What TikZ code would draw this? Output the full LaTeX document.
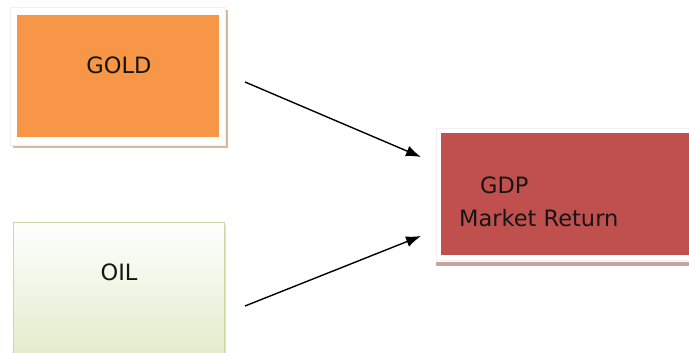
\documentclass[tikz,border=0pt]{standalone}
\usepackage{fontspec}
\setmainfont{DejaVu Sans}
\usetikzlibrary{arrows.meta}
\definecolor{goldfill}{HTML}{F79646}
\definecolor{goldshadow}{HTML}{D6B89E}
\definecolor{gdpfill}{HTML}{C0504D}
\definecolor{gdpshadow}{HTML}{C9A3A3}
\definecolor{oilborder}{HTML}{C9DBA6}
\definecolor{oilbottom}{HTML}{E2ECCB}
\definecolor{framegray}{HTML}{EEF0F2}
\definecolor{txt}{HTML}{151515}
\tikzset{
  lbl/.style={font=\fontsize{22.5}{27}\selectfont, text=txt, inner sep=0pt},
  conn/.style={line width=1.4pt, -{Latex[length=15pt,width=11pt]}},
  boxnode/.style={inner sep=0pt, outer sep=0pt}
}
\begin{document}
\begin{tikzpicture}[x=1pt,y=-1pt]
\useasboundingbox (0,0) rectangle (689,353);
% GOLD
\fill[goldshadow] (13,10) rectangle (228,148);
\fill[white, draw=framegray] (10,7) rectangle (225,145);
\node[boxnode, fill=goldfill, minimum width=202pt, minimum height=122pt] (gold) at (118,76) {};
\node[lbl] (goldtxt) at (119,65) {GOLD};
% OIL
\fill[oilborder!70] (16,225) rectangle (226,356);
\node[boxnode, draw=oilborder, line width=0.8pt, top color=white, bottom color=oilbottom, minimum width=211pt, minimum height=134pt] (oil) at (118.5,289) {};
\node[lbl] (oiltxt) at (119,272) {OIL};
% GDP
\fill[gdpshadow] (436,262) rectangle (689,266);
\fill[white, draw=framegray] (436,128) rectangle (690,260);
\node[boxnode, fill=gdpfill, minimum width=250pt, minimum height=122pt] (gdp) at (566,194) {};
\node[lbl, anchor=west] (gdptxt) at (480,185) {GDP};
\node[lbl, anchor=west] (mrtxt) at (459,218) {Market Return};
% arrows
\draw[conn] ([xshift=26pt,yshift=-6pt]gold.east) -- ([xshift=-20pt,yshift=37pt]gdp.west);
\draw[conn] ([xshift=21pt,yshift=-17pt]oil.east) -- ([xshift=-20pt,yshift=-42pt]gdp.west);
\end{tikzpicture}
\end{document}
